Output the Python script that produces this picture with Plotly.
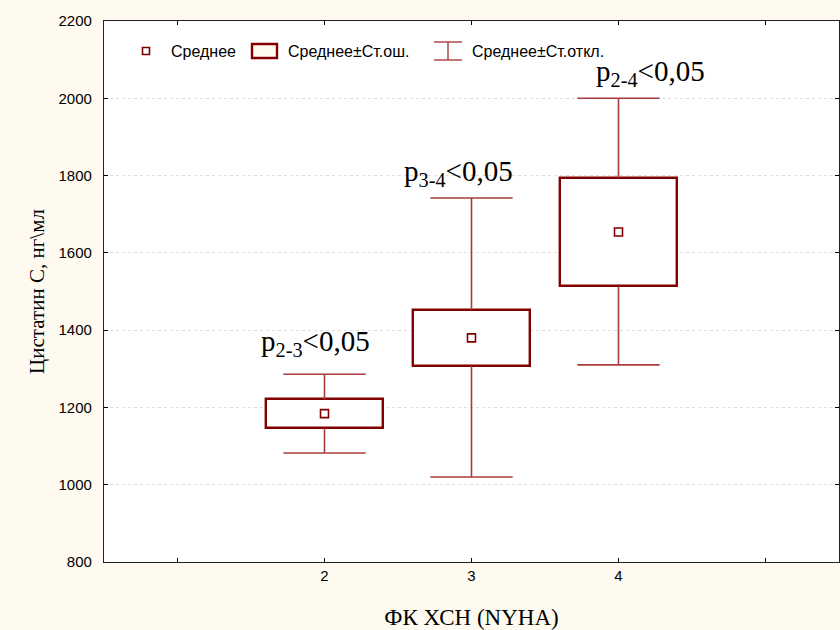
import plotly.graph_objects as go

# Functional class groups (NYHA) and cystatin C summary statistics
groups = [2, 3, 4]
mean_vals = [1184, 1380, 1654]
se_low = [1147, 1307, 1514]
se_high = [1221, 1452, 1794]
sd_low = [1082, 1020, 1310]
sd_high = [1286, 1742, 2000]

x_tick_vals = [2, 3, 4]
x_tick_text = ["2", "3", "4"]
x_minor_vals = [1, 2, 3, 4, 5]
y_tick_vals = [800, 1000, 1200, 1400, 1600, 1800, 2000, 2200]

p_labels = ["p<sub>2-3</sub>&lt;0,05", "p<sub>3-4</sub>&lt;0,05", "p<sub>2-4</sub>&lt;0,05"]
p_label_x = [1.94, 2.91, 4.22]
p_label_y = [1367, 1807, 2066]

BOX_COLOR = "#800000"
WHISKER_COLOR = "#a83c3c"
PAPER = "#fffaf0"
BOX_W = 0.8
CAP_HALF = 0.28

fig = go.Figure()

# Whiskers (mean ± SD) with caps
wx, wy = [], []
for g, lo, hi, slo, shi in zip(groups, se_low, se_high, sd_low, sd_high):
    wx += [g, g, None, g - CAP_HALF, g + CAP_HALF, None,
           g, g, None, g - CAP_HALF, g + CAP_HALF, None]
    wy += [hi, shi, None, shi, shi, None,
           lo, slo, None, slo, slo, None]
fig.add_trace(go.Scatter(x=wx, y=wy, mode="lines",
                         line=dict(color=WHISKER_COLOR, width=1.6),
                         hoverinfo="skip", showlegend=False))

# Boxes (mean ± SE)
fig.add_trace(go.Bar(x=groups,
                     y=[h - l for h, l in zip(se_high, se_low)],
                     base=se_low, width=BOX_W,
                     marker=dict(color="white", line=dict(color=BOX_COLOR, width=2.4)),
                     showlegend=False))

# Mean markers
fig.add_trace(go.Scatter(x=groups, y=mean_vals, mode="markers",
                         marker=dict(symbol="square-open", size=8, color=BOX_COLOR,
                                     line=dict(width=1.6, color=BOX_COLOR)),
                         showlegend=False))

# Significance annotations
for txt, ax, ay in zip(p_labels, p_label_x, p_label_y):
    fig.add_annotation(x=ax, y=ay, text=txt, showarrow=False,
                       xanchor="center", yanchor="middle",
                       font=dict(family="Liberation Serif", size=29, color="black"))

# Legend drawn inside the plot area
L, R, T, B = 104, 839, 21, 562
W, H = R - L, B - T
def px(x):
    return (x - L) / W
def py(y):
    return (B - y) / H

shapes = []
# mean marker symbol
shapes.append(dict(type="rect", xref="paper", yref="paper",
                   x0=px(142.5), x1=px(149.5), y0=py(54.5), y1=py(47.5),
                   line=dict(color=BOX_COLOR, width=1.6), fillcolor="white"))
# SE box symbol
shapes.append(dict(type="rect", xref="paper", yref="paper",
                   x0=px(252), x1=px(277), y0=py(58), y1=py(44),
                   line=dict(color=BOX_COLOR, width=2.4), fillcolor=PAPER))
# SD whisker symbol
for seg in [((434, 42), (462, 42)), ((448, 42), (448, 60)), ((434, 60), (462, 60))]:
    (x0, y0), (x1, y1) = seg
    shapes.append(dict(type="line", xref="paper", yref="paper",
                       x0=px(x0), x1=px(x1), y0=py(y0), y1=py(y1),
                       line=dict(color=WHISKER_COLOR, width=1.4)))

legend_items = [("Среднее", 169), ("Среднее±Ст.ош.", 286), ("Среднее±Ст.откл.", 470)]
for txt, lx in legend_items:
    fig.add_annotation(xref="paper", yref="paper", x=px(lx), y=py(51),
                       text=txt, showarrow=False, xanchor="left", yanchor="middle",
                       font=dict(family="Liberation Sans", size=16, color="black"))

fig.update_layout(
    width=840, height=630,
    margin=dict(l=L, r=840 - R, t=T, b=630 - B),
    paper_bgcolor=PAPER, plot_bgcolor="white",
    shapes=shapes, bargap=0, showlegend=False,
    font=dict(family="Liberation Sans", color="black"),
)

fig.update_xaxes(range=[0.5, 5.5], tickvals=x_tick_vals, ticktext=x_tick_text,
                 ticks="inside", ticklen=4, tickcolor="black",
                 minor=dict(tickvals=x_minor_vals, ticks="inside", ticklen=4,
                            tickcolor="black", showgrid=False),
                 showline=True, linecolor="#222", linewidth=1.2, mirror="ticks",
                 showgrid=False, zeroline=False,
                 tickfont=dict(family="Liberation Sans", size=15),
                 title=dict(text="ФК ХСН (NYHA)", standoff=26,
                            font=dict(family="Liberation Serif", size=23)))

fig.update_yaxes(range=[800, 2200], tickvals=y_tick_vals,
                 ticks="inside", ticklen=4, tickcolor="black",
                 showline=True, linecolor="#222", linewidth=1.2, mirror="ticks",
                 showgrid=True, gridcolor="#dedede", griddash="dot", gridwidth=1,
                 zeroline=False, ticklabelstandoff=8,
                 tickfont=dict(family="Liberation Sans", size=15),
                 title=dict(text="Цистатин С, нг\\мл", standoff=8,
                            font=dict(family="Liberation Serif", size=21)))

fig.write_html("out.html")
